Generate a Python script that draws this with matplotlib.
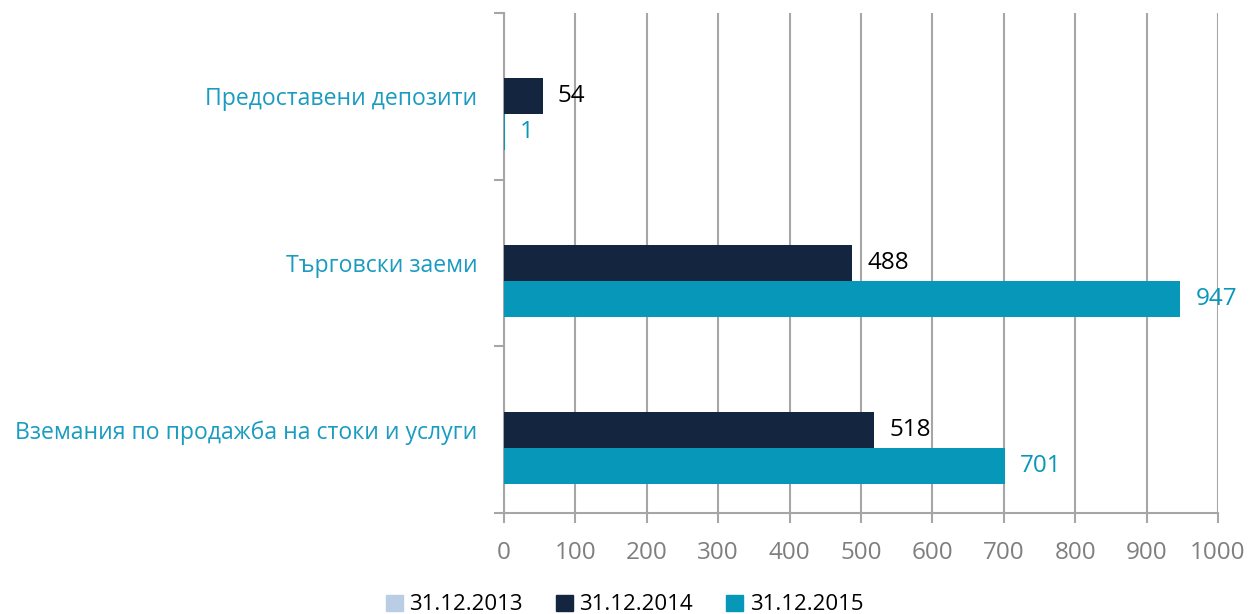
import numpy as np
import matplotlib.pyplot as plt
from matplotlib.patches import Patch

# data (bottom to top)
categories = ["Вземания по продажба на стоки и услуги", "Търговски заеми", "Предоставени депозити"]
series_names = ["31.12.2013", "31.12.2014", "31.12.2015"]
v2013 = [np.nan, np.nan, np.nan]
v2014 = [518, 488, 54]
v2015 = [701, 947, 1]
xticks = [0, 100, 200, 300, 400, 500, 600, 700, 800, 900, 1000]

c2013 = "#b9cde5"
c2014 = "#14263f"
c2015 = "#0797b9"
grey = "#7f7f7f"

plt.rcParams['font.family'] = ['Open Sans', 'DejaVu Sans']

fig = plt.figure(figsize=(12.49, 6.14), dpi=100)
ax = fig.add_axes([0.4035, 0.1645, 0.5717, 0.8143])

y = np.arange(len(categories))
h = 0.216
ax.barh(y + h, v2013, height=h, color=c2013, zorder=3)
ax.barh(y, v2014, height=h, color=c2014, zorder=3)
ax.barh(y - h, v2015, height=h, color=c2015, zorder=3)

for i in range(len(categories)):
    ax.annotate(str(v2014[i]), (v2014[i], y[i]), xytext=(11, 0), textcoords="offset points",
                va="center", ha="left", fontsize=17.5, color="black")
    ax.annotate(str(v2015[i]), (v2015[i], y[i] - h), xytext=(11, 0), textcoords="offset points",
                va="center", ha="left", fontsize=17.5, color=c2015)

ax.set_xlim(0, 1000)
ax.set_ylim(-0.5, len(categories) - 0.5)
ax.set_xticks(xticks)
ax.set_xticklabels([str(t) for t in xticks], fontsize=17.5, color=grey)
ax.xaxis.grid(True, color="#a6a6a6", linewidth=1.5, zorder=0)
ax.tick_params(axis="x", length=7, width=1.5, color="#a6a6a6", pad=13)

ax.set_yticks(y)
ax.set_yticklabels(categories, fontsize=16.6, color="#1a9bc0")
ax.tick_params(axis="y", length=0, pad=19)
ax.set_yticks(np.arange(-0.5, len(categories), 1.0), minor=True)
ax.tick_params(axis="y", which="minor", length=7, width=1.5, color="#a6a6a6")

for s in ["top", "right"]:
    ax.spines[s].set_visible(False)
for s in ["left", "bottom"]:
    ax.spines[s].set_color("#a6a6a6")
    ax.spines[s].set_linewidth(1.5)

handles = [Patch(color=c) for c in (c2013, c2014, c2015)]
fig.legend(handles, series_names, loc="lower center", bbox_to_anchor=(0.5, -0.035), ncol=3,
           frameon=False, fontsize=16, handlelength=0.75, handleheight=0.75, handletextpad=0.3,
           columnspacing=1.5)

fig.savefig("out.png", dpi=100)
